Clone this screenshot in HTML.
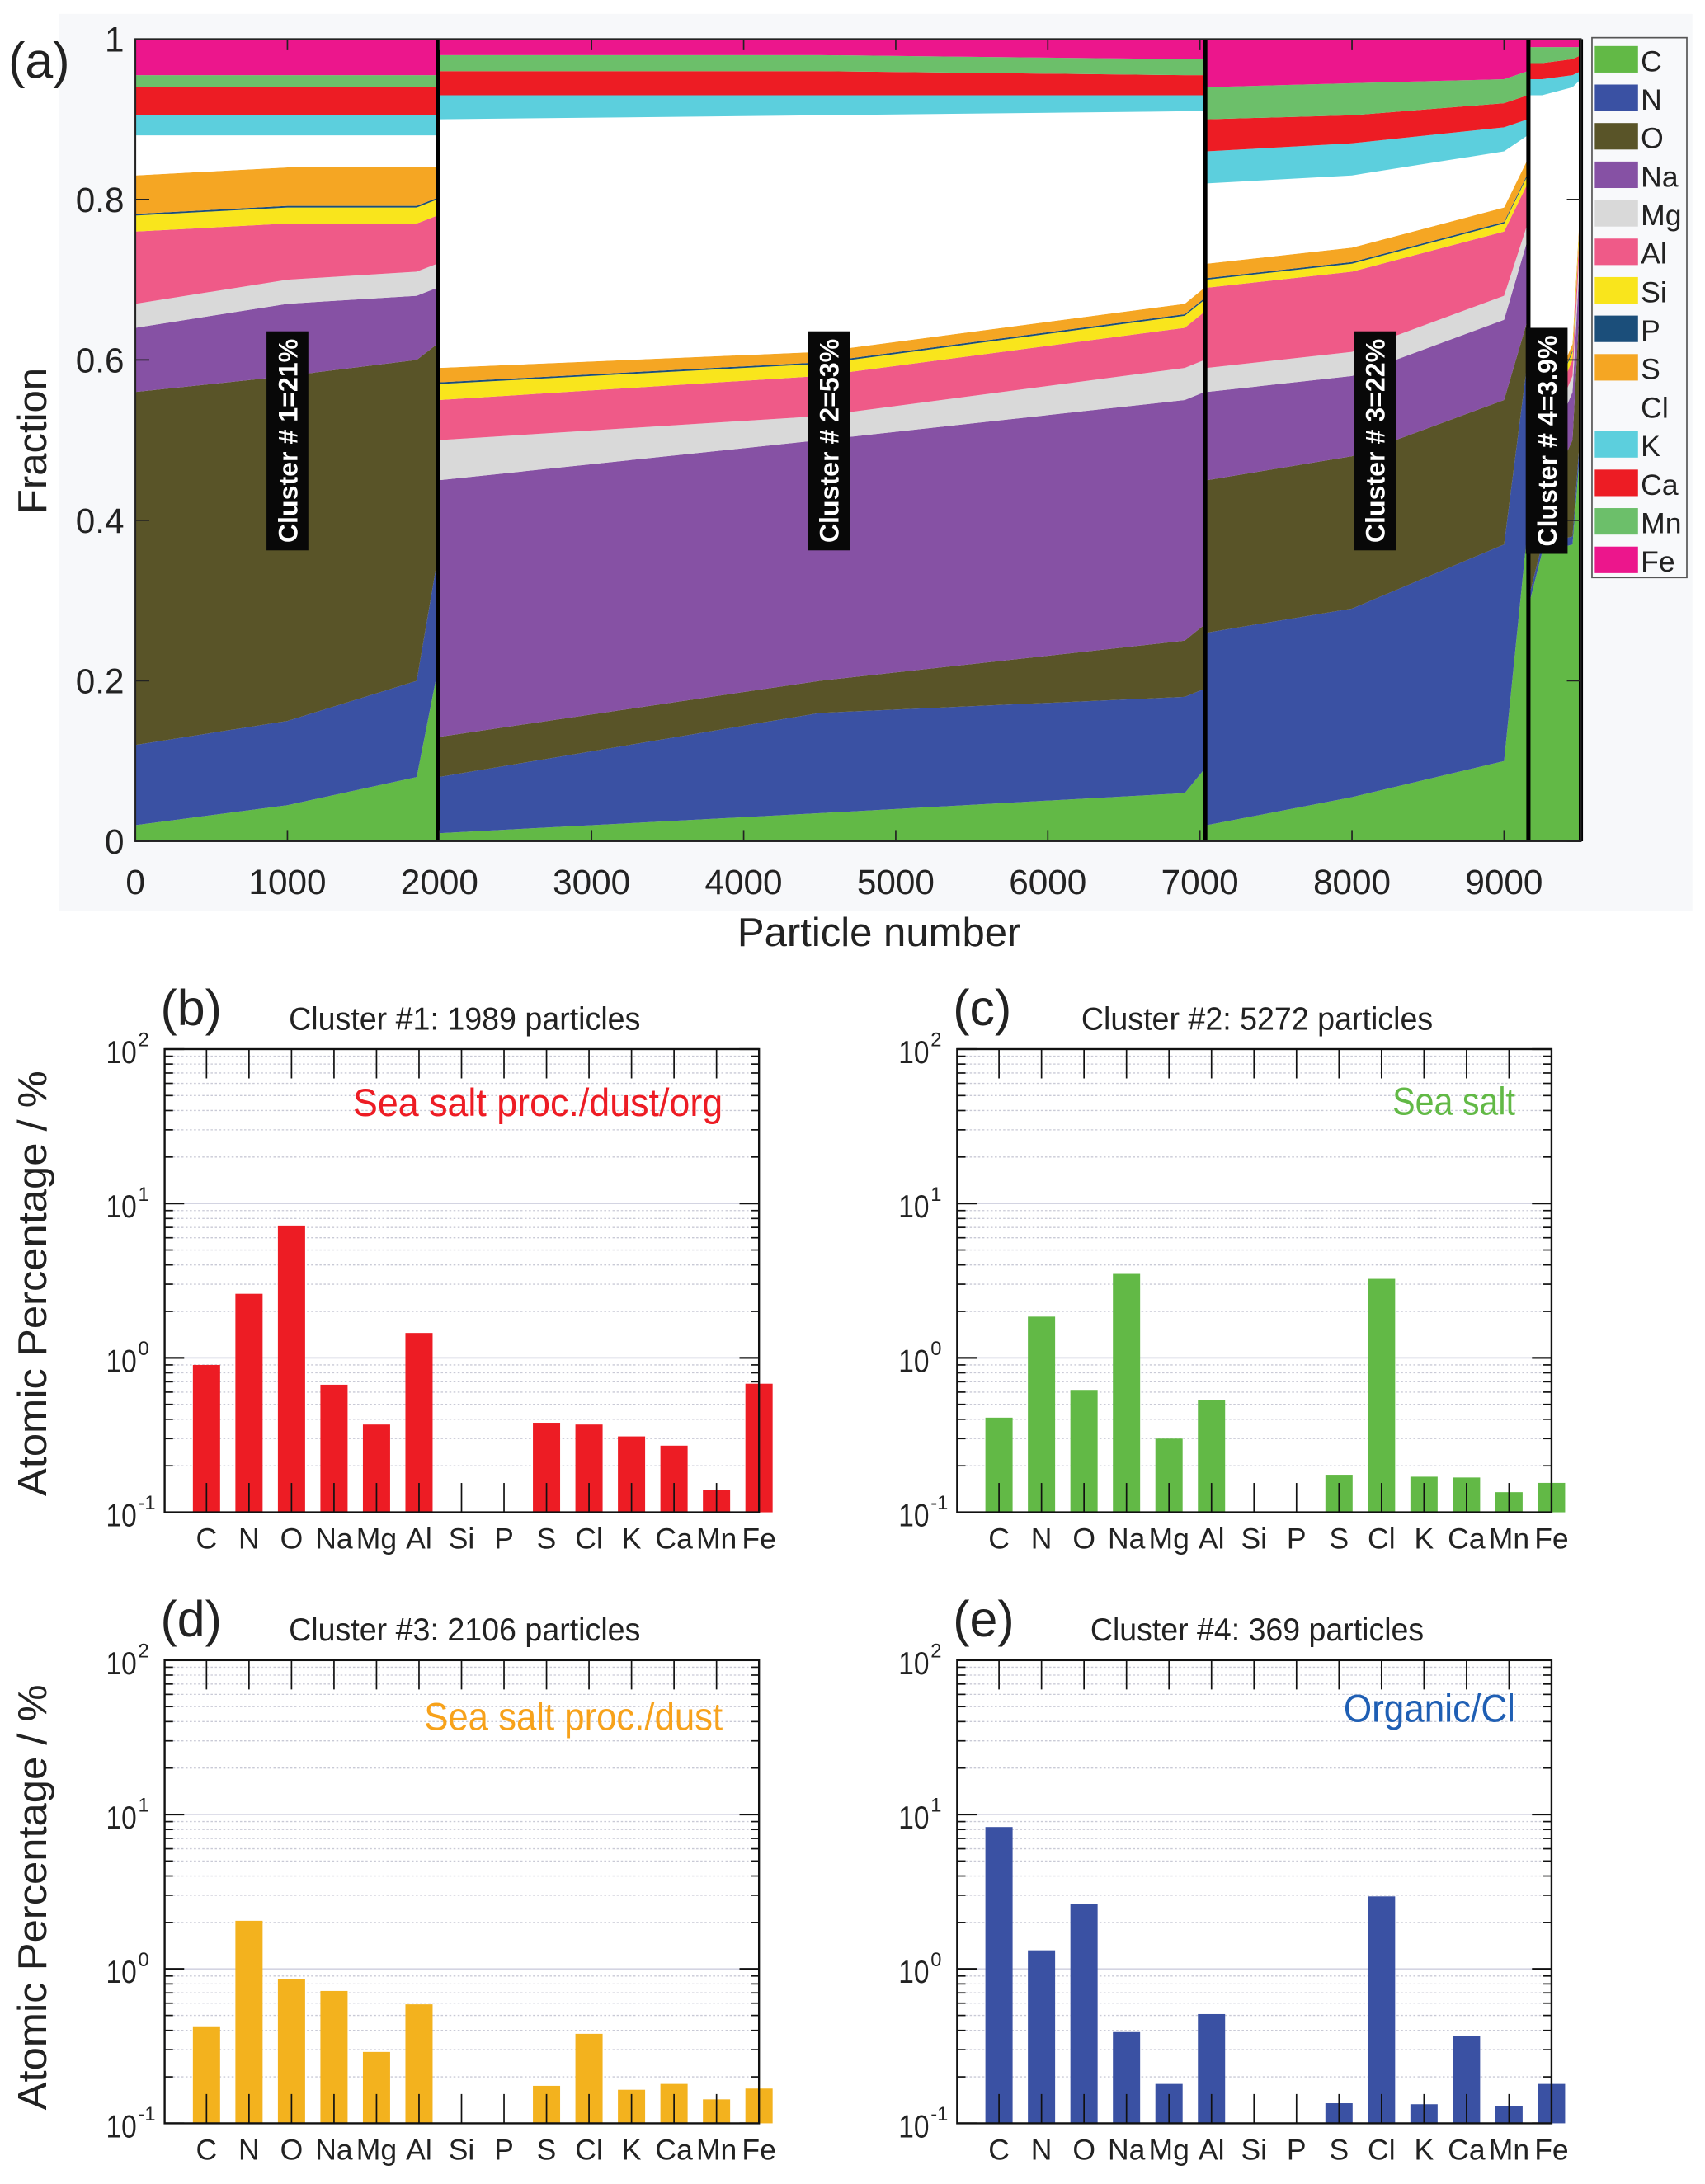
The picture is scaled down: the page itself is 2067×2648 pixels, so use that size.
<!DOCTYPE html>
<html><head><meta charset="utf-8"><title>Particle cluster composition</title>
<style>
html,body{margin:0;padding:0;background:#fff;}
svg{display:block;}
.sans{font-family:"Liberation Sans",sans-serif;}
.nar{font-family:"Liberation Sans Narrow","Liberation Sans",sans-serif;}
</style></head>
<body>
<svg id="fig" xmlns="http://www.w3.org/2000/svg" width="2067" height="2648" viewBox="0 0 1222 1565.5">
<rect x="0" y="0" width="1222" height="1566" fill="#ffffff"/>
<rect x="42" y="10" width="1171" height="643" fill="#f7f8fa"/>
<g id="panelA"></g>
<g id="bars"></g>
</svg>
<script>
// ---------- Panel (a) data ----------
const elements = ["C","N","O","Na","Mg","Al","Si","P","S","Cl","K","Ca","Mn","Fe"];
const elemColors = ["#62b946","#3a51a3","#595428","#8651a4","#d9d9d9","#ef5a88","#f9e51c","#1b4e7a","#f5a623","#ffffff","#5ccfdd","#ed1c24","#6cbf6a","#ec168c"];
const clusterBounds = [1989, 7035, 9160, 9505];
const xTicks = [0,1000,2000,3000,4000,5000,6000,7000,8000,9000];
const yTicksA = [0,0.2,0.4,0.6,0.8,1];
// sample positions (particle number) for each cluster
const c1Pos = [0, 1000, 1850, 1985];
const c2Pos = [1995, 4500, 6900, 7030];
const c3Pos = [7045, 8000, 9000, 9155];
const c4Pos = [9170, 9250, 9450, 9505];
// cumulative fraction tops per sample [C..Fe]
const c1Cum = [
 [.02,.12,.56,.64,.67,.76,.78,.782,.83,.88,.905,.94,.955,1],
 [.045,.15,.58,.67,.70,.77,.79,.792,.84,.88,.905,.94,.955,1],
 [.08,.2,.6,.68,.71,.77,.79,.792,.84,.88,.905,.94,.955,1],
 [.21,.35,.62,.69,.72,.78,.80,.802,.84,.88,.905,.94,.955,1]];
const c2Cum = [
 [.01,.08,.13,.45,.50,.55,.57,.572,.59,.90,.93,.96,.98,1],
 [.035,.16,.2,.5,.53,.58,.595,.597,.61,.905,.93,.96,.98,1],
 [.06,.18,.25,.55,.59,.64,.655,.657,.67,.91,.93,.955,.975,1],
 [.09,.19,.27,.56,.60,.66,.675,.677,.69,.91,.93,.955,.975,1]];
const c3Cum = [
 [.02,.26,.45,.56,.59,.69,.70,.702,.72,.82,.86,.90,.94,1],
 [.055,.29,.48,.58,.61,.71,.72,.722,.74,.83,.87,.905,.945,1],
 [.10,.37,.55,.65,.68,.76,.77,.772,.79,.86,.89,.92,.95,1],
 [.39,.60,.65,.75,.77,.82,.83,.832,.85,.88,.90,.93,.96,1]];
const c4Cum = [
 [.30,.31,.40,.45,.47,.49,.50,.502,.51,.93,.95,.97,.99,1],
 [.36,.37,.42,.47,.49,.51,.52,.522,.53,.93,.95,.97,.99,1],
 [.37,.38,.50,.56,.58,.60,.61,.612,.62,.94,.955,.975,.99,1],
 [.50,.52,.70,.75,.77,.79,.80,.802,.81,.95,.96,.98,.99,1]];
const clusterLabels = ["Cluster # 1=21%","Cluster # 2=53%","Cluster # 3=22%","Cluster # 4=3.9%"];
const clusterLabelPos = [1000, 4560, 8150, 9280];

// ---------- Bar panels data ----------
const barCats = ["C","N","O","Na","Mg","Al","Si","P","S","Cl","K","Ca","Mn","Fe"];
const valsB = [0.9,2.6,7.2,0.67,0.37,1.45,null,null,0.38,0.37,0.31,0.27,0.14,0.68];
const valsC = [0.41,1.85,0.62,3.5,0.30,0.53,null,null,0.175,3.25,0.17,0.168,0.135,0.155];
const valsD = [0.42,2.05,0.86,0.72,0.29,0.59,null,null,0.175,0.38,0.165,0.18,0.143,0.168];
const valsE = [8.3,1.32,2.65,0.39,0.18,0.51,null,null,0.135,2.95,0.133,0.37,0.13,0.18];
const logTicks = [-1,0,1,2];

const NS = "http://www.w3.org/2000/svg";
function mk(tag, attrs, parent){const e=document.createElementNS(NS,tag);for(const k in attrs)e.setAttribute(k,attrs[k]);parent.appendChild(e);return e;}

// ---- Panel a ----
const A = document.getElementById("panelA");
const AX0=97, AX1=1133, AY0=603, AY1=28;
const xA = p => AX0 + p*0.109;
const yA = f => AY0 - f*(AY0-AY1);
mk("rect",{x:AX0,y:AY1,width:AX1-AX0,height:AY0-AY1,fill:"#f8f9fb"},A);
const clusters=[[c1Pos,c1Cum],[c2Pos,c2Cum],[c3Pos,c3Cum],[c4Pos,c4Cum]];
clusters.forEach((cl,ci)=>{
  const pos=cl[0], cum=cl[1];
  for(let k=0;k<elements.length;k++){
    let pts=[];
    for(let s=0;s<pos.length;s++) pts.push(xA(pos[s]).toFixed(2)+","+yA(cum[s][k]).toFixed(2));
    for(let s=pos.length-1;s>=0;s--) pts.push(xA(pos[s]).toFixed(2)+","+yA(k===0?0:cum[s][k-1]).toFixed(2));
    const p=mk("polygon",{points:pts.join(" "),fill:elemColors[k]},A);
    
    
  }
});
// boundaries
clusterBounds.forEach((b,i)=>{
  const l=mk("line",{x1:xA(b),x2:xA(b),y1:AY1,y2:AY0,stroke:"#000","stroke-width":3},A);
  
  
});
mk("rect",{x:AX0,y:AY1,width:AX1-AX0,height:AY0-AY1,fill:"none",stroke:"#222","stroke-width":1.2},A);
// ticks & labels
xTicks.forEach(t=>{
  mk("line",{x1:xA(t),x2:xA(t),y1:AY0,y2:AY0-8,stroke:"#222","stroke-width":1},A);
  mk("line",{x1:xA(t),x2:xA(t),y1:AY1,y2:AY1+8,stroke:"#222","stroke-width":1},A);
  const tx=mk("text",{x:xA(t),y:641,"text-anchor":"middle","font-size":25,class:"sans",fill:"#222"},A);
  tx.textContent=t;
  
  
});
yTicksA.forEach(t=>{
  mk("line",{x1:AX0,x2:AX0+10,y1:yA(t),y2:yA(t),stroke:"#222","stroke-width":1},A);
  mk("line",{x1:AX1,x2:AX1-10,y1:yA(t),y2:yA(t),stroke:"#222","stroke-width":1},A);
  const tx=mk("text",{x:89,y:yA(t)+9,"text-anchor":"end","font-size":25,class:"sans",fill:"#222"},A);
  tx.textContent=String(t);
  
  
});
// cluster labels
clusterLabels.forEach((lab,i)=>{
  const cx=xA(clusterLabelPos[i]);
  const g=mk("g",{},A);
  
  
  const w = i===3?162:157;
  mk("rect",{x:cx-15,y:316-w/2,width:30,height:w,fill:"#080808"},g);
  const t=mk("text",{x:0,y:0,transform:"translate("+(cx+7)+",316) rotate(-90)","text-anchor":"middle","font-size":19,"font-weight":"bold",class:"sans",fill:"#fff"},g);
  t.textContent=lab;
});
// titles
let t;
t=mk("text",{x:630,y:678,"text-anchor":"middle","font-size":29,class:"sans",fill:"#222"},A); t.textContent="Particle number";


t=mk("text",{x:0,y:0,transform:"translate(33,316) rotate(-90)","text-anchor":"middle","font-size":29,class:"sans",fill:"#222"},A); t.textContent="Fraction";


t=mk("text",{x:6,y:56,"font-size":36,class:"sans",fill:"#222"},A); t.textContent="(a)";


// legend
const L=mk("g",{},A);


mk("rect",{x:1141,y:27,width:68,height:387,fill:"#f8f9fb",stroke:"#555","stroke-width":1},L);
elements.forEach((e,i)=>{
  const y=31+i*27.6;
  const g=mk("g",{},L);
  
  
  if(e!=="Cl") mk("rect",{x:1143,y:y+2,width:31,height:19,fill:elemColors[i]},g);
  const tx=mk("text",{x:1176,y:y+20,"font-size":21,class:"sans",fill:"#222"},g);
  tx.textContent=e;
});

// ---- Bar panels ----
const B=document.getElementById("bars");
const panels=[
 {vals:valsB,x0:118,y0:752,color:"#ed1c24",ac:"#ed1c24",label:"(b)",title:"Cluster #1: 1989 particles",tw:252,ann:"Sea salt proc./dust/org",aw:265,annY:800,name:"b"},
 {vals:valsC,x0:686,y0:752,color:"#62b946",ac:"#62b946",label:"(c)",title:"Cluster #2: 5272 particles",tw:252,ann:"Sea salt",aw:88,annY:799,name:"c"},
 {vals:valsD,x0:118,y0:1190,color:"#f3b21e",ac:"#f7a21b",label:"(d)",title:"Cluster #3: 2106 particles",tw:252,ann:"Sea salt proc./dust",aw:214,annY:1240,name:"d"},
 {vals:valsE,x0:686,y0:1190,color:"#3a51a3",ac:"#1f5fb4",label:"(e)",title:"Cluster #4: 369 particles",tw:239,ann:"Organic/Cl",aw:123,annY:1234,name:"e"}];
const PW=426, PH=332, SP=396/13;
panels.forEach(P=>{
  const g=mk("g",{},B);
  
  
  const yL=v=>P.y0+PH*(2-Math.log10(v))/3;
  const xC=i=>P.x0+30+i*SP;
  for(let d=-1;d<2;d++){
    for(let m=2;m<=9;m++){
      const y=yL(m*Math.pow(10,d));
      mk("line",{x1:P.x0,x2:P.x0+PW,y1:y,y2:y,stroke:"#c9cad6","stroke-width":0.8,"stroke-dasharray":"1.5,1.5"},g);
      mk("line",{x1:P.x0,x2:P.x0+6,y1:y,y2:y,stroke:"#111","stroke-width":1},g);
      mk("line",{x1:P.x0+PW,x2:P.x0+PW-6,y1:y,y2:y,stroke:"#111","stroke-width":1},g);
    }
  }
  logTicks.forEach(e=>{
    const y=yL(Math.pow(10,e));
    mk("line",{x1:P.x0,x2:P.x0+PW,y1:y,y2:y,stroke:"#d3d4e2","stroke-width":1},g);
    mk("line",{x1:P.x0,x2:P.x0+14,y1:y,y2:y,stroke:"#111","stroke-width":1.3},g);
    mk("line",{x1:P.x0+PW,x2:P.x0+PW-14,y1:y,y2:y,stroke:"#111","stroke-width":1.3},g);
    const tx=mk("text",{x:P.x0-20,y:y+10,"text-anchor":"end","font-size":23,class:"nar",fill:"#222",textLength:22,lengthAdjust:"spacingAndGlyphs"},g);
    tx.textContent="10";
    
    
    const sup=mk("text",{x:P.x0-19,y:y-2,"text-anchor":"start","font-size":14,class:"nar",fill:"#222"},g);
    sup.textContent=String(e);
  });
  P.vals.forEach((v,i)=>{
    if(v===null) return;
    const y=yL(v);
    const r=mk("rect",{x:xC(i)-9.75,y:y,width:19.5,height:P.y0+PH-y,fill:P.color},g);
    
    
  });
  barCats.forEach((c,i)=>{
    mk("line",{x1:xC(i),x2:xC(i),y1:P.y0,y2:P.y0+21,stroke:"#111","stroke-width":1},g);
    mk("line",{x1:xC(i),x2:xC(i),y1:P.y0+PH,y2:P.y0+PH-21,stroke:"#111","stroke-width":1},g);
    const tx=mk("text",{x:xC(i),y:P.y0+PH+26,"text-anchor":"middle","font-size":21,class:"nar",fill:"#222"},g);
    tx.textContent=c;
    
    
  });
  mk("rect",{x:P.x0,y:P.y0,width:PW,height:PH,fill:"none",stroke:"#111","stroke-width":1.4},g);
  let tt=mk("text",{x:P.x0+215-P.tw/2,y:P.y0-14,"font-size":23,class:"nar",fill:"#222",textLength:P.tw,lengthAdjust:"spacingAndGlyphs"},g);
  tt.textContent=P.title;
  
  
  tt=mk("text",{x:P.x0-3,y:P.y0-17,"font-size":36,class:"sans",fill:"#222"},g);
  tt.textContent=P.label;
  
  
  tt=mk("text",{x:P.x0+400-P.aw,y:P.annY,"font-size":28,class:"nar",fill:P.ac,textLength:P.aw,lengthAdjust:"spacingAndGlyphs"},g);
  tt.textContent=P.ann;
  
  
});
[920,1360].forEach(cy=>{
  const tx=mk("text",{x:0,y:0,transform:"translate(33,"+cy+") rotate(-90)","text-anchor":"middle","font-size":29,class:"sans",fill:"#222",textLength:305,lengthAdjust:"spacingAndGlyphs"},B);
  tx.textContent="Atomic Percentage / %";
  
  
});
</script>
</body></html>
